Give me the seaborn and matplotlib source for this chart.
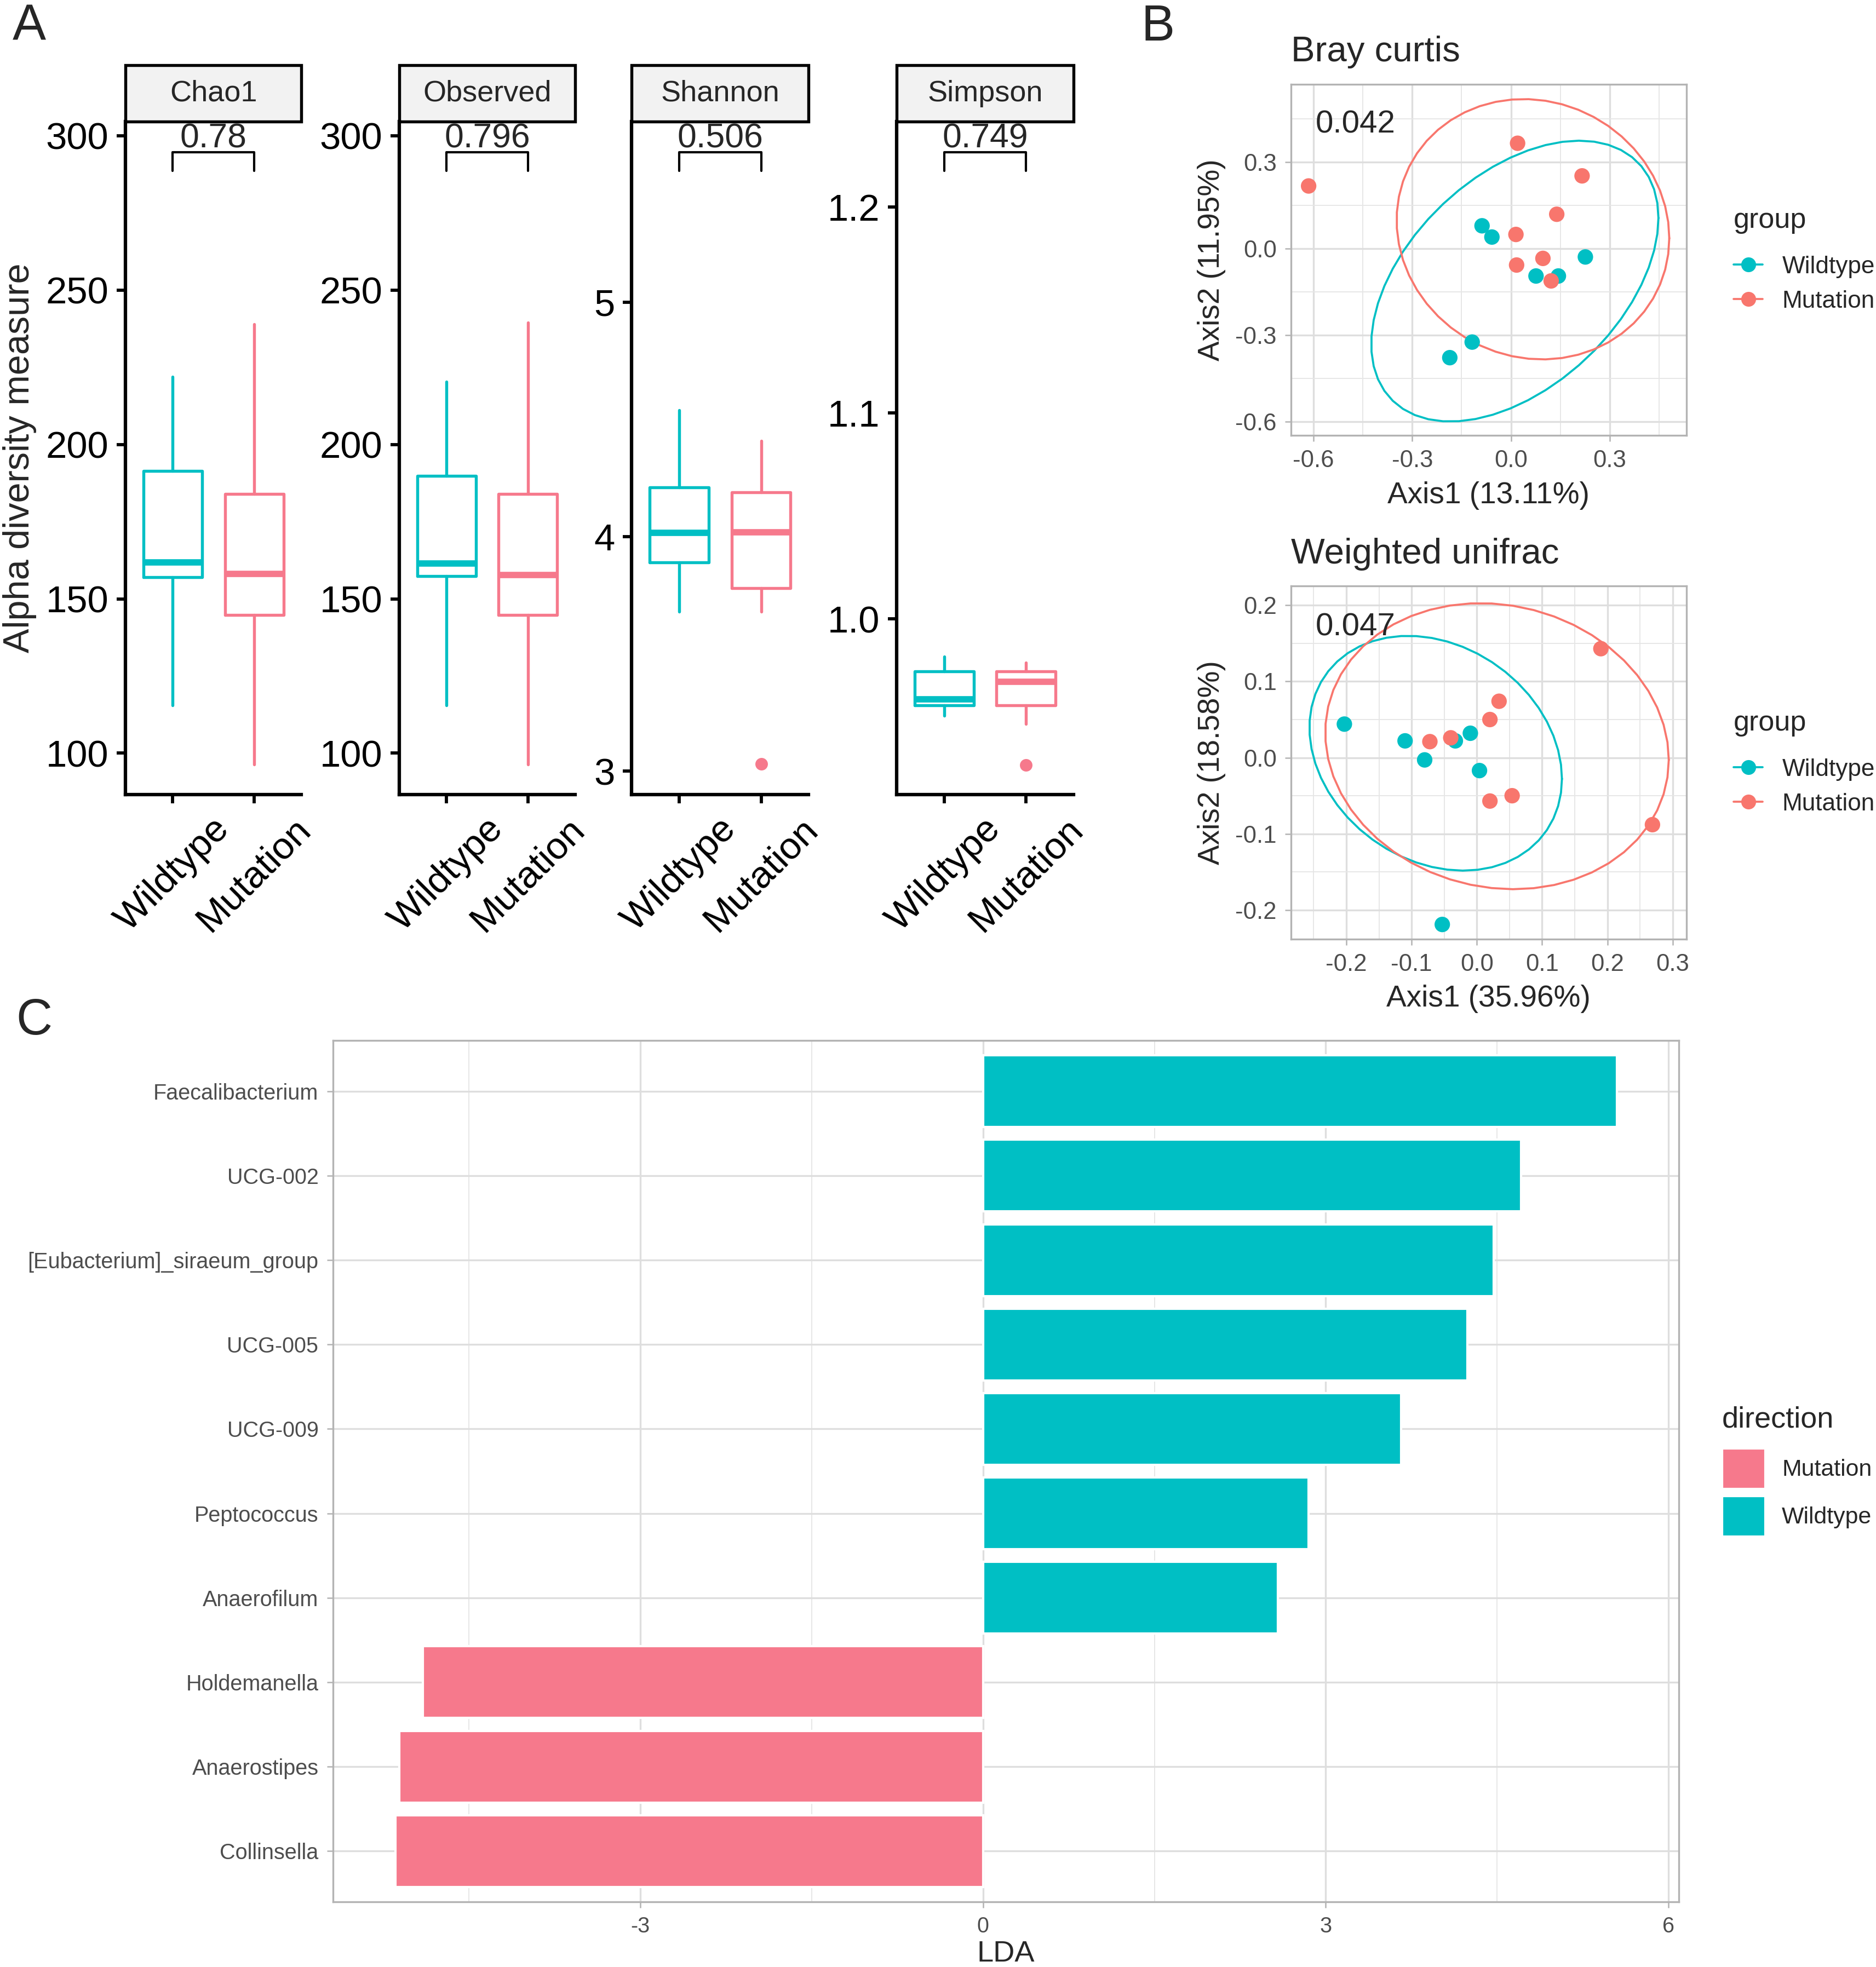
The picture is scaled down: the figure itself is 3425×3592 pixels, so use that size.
import numpy as np
import pandas as pd
import matplotlib
matplotlib.use('Agg')
import matplotlib.pyplot as plt
import matplotlib.patches as mpatches
import matplotlib.transforms as mtransforms
from matplotlib.lines import Line2D
from matplotlib.ticker import FixedLocator, FormatStrFormatter, MultipleLocator
import seaborn as sns

sns.set_style('ticks')
plt.rcParams['font.family'] = ['Liberation Sans', 'DejaVu Sans']
plt.rcParams['axes.unicode_minus'] = False

TEAL = '#00BFC4'
SALMON = '#F8766D'
PINK = '#F6798C'

# ---------------- A: alpha diversity (box stats)
groups = ['Wildtype', 'Mutation']
alpha_metrics = ['Chao1', 'Observed', 'Shannon', 'Simpson']
alpha_pvals = ['0.78', '0.796', '0.506', '0.749']
# whislo, q1, median, q3, whishi
chao1_wt = [115.5, 157.0, 161.8, 191.5, 222.0]
chao1_mut = [96.3, 144.7, 158.0, 184.0, 239.0]
observed_wt = [115.5, 157.3, 161.4, 189.8, 220.3]
observed_mut = [96.3, 144.7, 157.7, 184.0, 239.4]
shannon_wt = [3.68, 3.89, 4.016, 4.21, 4.54]
shannon_mut = [3.68, 3.78, 4.02, 4.19, 4.41]
simpson_wt = [0.953, 0.958, 0.961, 0.9744, 0.9817]
simpson_mut = [0.949, 0.958, 0.9695, 0.9744, 0.9787]
shannon_mut_outliers = [3.03]
simpson_mut_outliers = [0.929]

chao1_ticks = [100, 150, 200, 250, 300]
shannon_ticks = [3, 4, 5]
simpson_ticks = [1.0, 1.1, 1.2]

# ---------------- B: ordination points
bray_wt_x = [-0.088, -0.058, 0.226, 0.076, 0.144, -0.118, -0.186]
bray_wt_y = [0.079, 0.040, -0.029, -0.095, -0.095, -0.324, -0.378]
bray_mut_x = [-0.615, 0.020, 0.216, 0.139, 0.015, 0.017, 0.097, 0.122]
bray_mut_y = [0.217, 0.365, 0.252, 0.119, 0.049, -0.057, -0.034, -0.112]
bray_xticks = [-0.6, -0.3, 0.0, 0.3]
bray_yticks = [-0.6, -0.3, 0.0, 0.3]

wu_wt_x = [-0.203, -0.110, -0.080, -0.033, -0.010, 0.004, -0.053]
wu_wt_y = [0.044, 0.022, -0.003, 0.022, 0.032, -0.017, -0.219]
wu_mut_x = [0.190, 0.269, 0.034, 0.020, -0.072, -0.040, 0.020, 0.054]
wu_mut_y = [0.143, -0.088, 0.074, 0.050, 0.021, 0.026, -0.057, -0.050]
wu_xticks = [-0.2, -0.1, 0.0, 0.1, 0.2, 0.3]
wu_yticks = [-0.2, -0.1, 0.0, 0.1, 0.2]

# ---------------- C: LDA scores
taxa = ['Faecalibacterium', 'UCG-002', '[Eubacterium]_siraeum_group', 'UCG-005',
        'UCG-009', 'Peptococcus', 'Anaerofilum', 'Holdemanella', 'Anaerostipes',
        'Collinsella']
lda = [5.55, 4.71, 4.47, 4.24, 3.66, 2.85, 2.58, -4.90, -5.11, -5.14]
direction = ['Wildtype'] * 7 + ['Mutation'] * 3
lda_ticks = [-3, 0, 3, 6]


def t_ellipse(pts, level=0.95, nu=5, segments=51):
    # same as ggplot2 stat_ellipse(type = "t"), i.e. MASS::cov.trob
    n, p = pts.shape
    loc = pts.mean(axis=0)
    w = np.ones(n)
    for _ in range(25):
        w0 = w
        X = pts - loc
        _, d, vt = np.linalg.svd(np.sqrt(w / w.sum())[:, None] * X, full_matrices=False)
        Q = ((X @ vt.T / d) ** 2).sum(axis=1)
        w = (nu + p) / (nu + Q)
        loc = (w[:, None] * pts).sum(axis=0) / w.sum()
        if np.all(np.abs(w - w0) < 0.01):
            break
    cov = (w[:, None] * X).T @ X / n
    dfd = n - 1
    fq = dfd / 2 * ((1 - level) ** (-2 / dfd) - 1)
    radius = np.sqrt(2 * fq)
    ang = np.linspace(0, 2 * np.pi, segments + 1)
    circle = np.column_stack([np.cos(ang), np.sin(ang)])
    ell = loc + radius * circle @ np.linalg.cholesky(cov).T
    return ell[:, 0], ell[:, 1]


fig = plt.figure(figsize=(3425 / 300, 3592 / 300), dpi=300)
W, H = 1494.0, 1567.0


def add_ax(x0, x1, y0, y1):
    return fig.add_axes([x0 / W, 1 - y1 / H, (x1 - x0) / W, (y1 - y0) / H])


# ================= Panel A
box_data = [
    (chao1_wt, chao1_mut, [], chao1_ticks, (86.6, 304.5), '%d'),
    (observed_wt, observed_mut, [], chao1_ticks, (86.6, 304.5), '%d'),
    (shannon_wt, shannon_mut, shannon_mut_outliers, shannon_ticks, (2.90, 5.77), '%d'),
    (simpson_wt, simpson_mut, simpson_mut_outliers, simpson_ticks, (0.9146, 1.2415), '%.1f'),
]
a_x = [(100, 240), (318, 458), (503, 644), (714, 855)]

for i, (name, pv, (wt, mut, outl, ticks, ylim, fmt), (x0, x1)) in enumerate(
        zip(alpha_metrics, alpha_pvals, box_data, a_x)):
    ax = add_ax(x0, x1, 97, 633)
    for pos, st, col, fl in [(1, wt, TEAL, []), (2, mut, PINK, outl)]:
        stats = [dict(whislo=st[0], q1=st[1], med=st[2], q3=st[3], whishi=st[4], fliers=fl)]
        ax.bxp(stats, positions=[pos], widths=0.72, showcaps=False,
               boxprops=dict(color=col, lw=1.3),
               whiskerprops=dict(color=col, lw=1.3),
               medianprops=dict(color=col, lw=2.8, solid_capstyle='butt'),
               flierprops=dict(marker='o', markerfacecolor=col, markeredgecolor='none',
                               markersize=5.5))
    ax.set_xlim(0.42, 2.58)
    ax.set_ylim(*ylim)
    ax.set_xticks([1, 2])
    ax.set_xticklabels(groups, rotation=45, ha='center', va='top', fontsize=16.5)
    ax.yaxis.set_major_locator(FixedLocator(ticks))
    ax.yaxis.set_major_formatter(FormatStrFormatter(fmt))
    ax.tick_params(axis='both', length=3.9, width=1.4, colors='black', labelsize=16.5)
    sns.despine(ax=ax)
    for s in ['left', 'bottom']:
        ax.spines[s].set_linewidth(1.5)
        ax.spines[s].set_color('black')
    # facet strip
    sh = 45 / 536
    ax.add_patch(mpatches.Rectangle((0, 1), 1, sh, transform=ax.transAxes, clip_on=False,
                                    facecolor='#F2F2F2', edgecolor='black', lw=1.3))
    ax.text(0.5, 1 + sh / 2, name, transform=ax.transAxes, ha='center', va='center',
            fontsize=13)
    # p-value bracket
    tr = mtransforms.blended_transform_factory(ax.transData, ax.transAxes)
    ax.plot([1, 1, 2, 2], [0.927, 0.955, 0.955, 0.927], transform=tr, color='black',
            lw=1.0, clip_on=False)
    ax.text(1.5, 0.962, pv, transform=tr, ha='center', va='baseline', fontsize=15)
    if i == 0:
        ax.set_ylabel('Alpha diversity measure', fontsize=16)
    else:
        ax.set_ylabel('')
    ax.set_xlabel('')


# ================= Panel B
def ord_panel(ax, wt_x, wt_y, mut_x, mut_y, title, xlab, ylab, pval, xlim, ylim,
              xticks, yticks, step):
    df = pd.DataFrame({'Axis1': wt_x + mut_x, 'Axis2': wt_y + mut_y,
                       'group': ['Wildtype'] * len(wt_x) + ['Mutation'] * len(mut_x)})
    pal = {'Wildtype': TEAL, 'Mutation': SALMON}
    for g in ['Wildtype', 'Mutation']:
        pts = df.loc[df.group == g, ['Axis1', 'Axis2']].to_numpy()
        ex, ey = t_ellipse(pts)
        ax.plot(ex, ey, color=pal[g], lw=0.9, zorder=2)
    sns.scatterplot(data=df, x='Axis1', y='Axis2', hue='group', palette=pal, s=46,
                    edgecolor='none', linewidth=0, legend=False, ax=ax, zorder=3)
    ax.set_xlim(*xlim)
    ax.set_ylim(*ylim)
    ax.xaxis.set_major_locator(FixedLocator(xticks))
    ax.yaxis.set_major_locator(FixedLocator(yticks))
    ax.xaxis.set_major_formatter(FormatStrFormatter('%.1f'))
    ax.yaxis.set_major_formatter(FormatStrFormatter('%.1f'))
    ax.xaxis.set_minor_locator(MultipleLocator(step / 2))
    ax.yaxis.set_minor_locator(MultipleLocator(step / 2))
    ax.set_axisbelow(True)
    ax.grid(which='major', color='#DEDEDE', lw=0.8)
    ax.grid(which='minor', color='#E6E6E6', lw=0.45)
    ax.tick_params(which='major', length=2.75, width=0.6, color='#B3B3B3',
                   labelcolor='#4D4D4D', labelsize=10.5)
    ax.tick_params(which='minor', length=0)
    for s in ax.spines.values():
        s.set_color('#B3B3B3')
        s.set_linewidth(0.8)
    ax.set_xlabel(xlab, fontsize=13.2)
    ax.set_ylabel(ylab, fontsize=13.2)
    ax.set_title(title, loc='left', fontsize=15.7, pad=10)
    ax.text(0.063, 0.861, pval, transform=ax.transAxes, ha='left', va='baseline',
            fontsize=14)
    handles = [Line2D([], [], color=pal[g], lw=0.9, marker='o', markersize=6.5,
                      markeredgecolor='none') for g in ['Wildtype', 'Mutation']]
    leg = ax.legend(handles, ['Wildtype', 'Mutation'], title='group', loc='center left',
                    bbox_to_anchor=(1.095, 0.5), frameon=False, fontsize=10.6,
                    title_fontsize=12.5, alignment='left', handlelength=1.2,
                    handletextpad=0.8, labelspacing=0.5, borderaxespad=0)
    leg._legend_box.sep = 9.5


ax_b1 = add_ax(1028, 1343, 67, 347)
ord_panel(ax_b1, bray_wt_x, bray_wt_y, bray_mut_x, bray_mut_y, 'Bray curtis',
          'Axis1 (13.11%)', 'Axis2 (11.95%)', '0.042', (-0.669, 0.533), (-0.648, 0.57),
          bray_xticks, bray_yticks, 0.3)
ax_b2 = add_ax(1028, 1343, 467, 748)
ord_panel(ax_b2, wu_wt_x, wu_wt_y, wu_mut_x, wu_mut_y, 'Weighted unifrac',
          'Axis1 (35.96%)', 'Axis2 (18.58%)', '0.047', (-0.285, 0.321), (-0.238, 0.225),
          wu_xticks, wu_yticks, 0.1)

# ================= Panel C
ax_c = add_ax(265, 1337, 829, 1515)
lda_df = pd.DataFrame({'taxon': taxa, 'LDA': lda, 'direction': direction})
sns.barplot(data=lda_df, x='LDA', y='taxon', hue='direction',
            hue_order=['Mutation', 'Wildtype'],
            palette={'Mutation': PINK, 'Wildtype': TEAL}, dodge=False, width=0.85,
            saturation=1, ax=ax_c, zorder=3)
ax_c.set_xlim(-5.69, 6.09)
ax_c.set_ylim(len(taxa) - 0.4, -0.6)
ax_c.xaxis.set_major_locator(FixedLocator(lda_ticks))
ax_c.xaxis.set_major_formatter(FormatStrFormatter('%d'))
ax_c.xaxis.set_minor_locator(MultipleLocator(1.5))
ax_c.set_axisbelow(True)
ax_c.grid(which='major', color='#DEDEDE', lw=0.8)
ax_c.grid(which='minor', axis='x', color='#E6E6E6', lw=0.45)
ax_c.tick_params(which='major', length=2.75, width=0.6, color='#B3B3B3',
                 labelcolor='#4D4D4D', labelsize=9.5)
ax_c.tick_params(which='minor', length=0)
for s in ax_c.spines.values():
    s.set_color('#B3B3B3')
    s.set_linewidth(0.8)
ax_c.set_xlabel('LDA', fontsize=13, labelpad=1.5)
ax_c.set_ylabel('')
sns.move_legend(ax_c, 'center left', bbox_to_anchor=(1.025, 0.5), frameon=False,
                title='direction', alignment='left', fontsize=10.3, title_fontsize=13,
                handlelength=1.85, handleheight=2.28, labelspacing=0.3,
                handletextpad=0.7, borderaxespad=0)
ax_c.get_legend()._legend_box.sep = 6.6

# panel letters
fig.text(10 / W, 1 - 3 / H, 'A', fontsize=22, ha='left', va='top')
fig.text(909 / W, 1 - 3 / H, 'B', fontsize=22, ha='left', va='top')
fig.text(13 / W, 1 - 795 / H, 'C', fontsize=22, ha='left', va='top')

fig.savefig('out.png', dpi=300)
